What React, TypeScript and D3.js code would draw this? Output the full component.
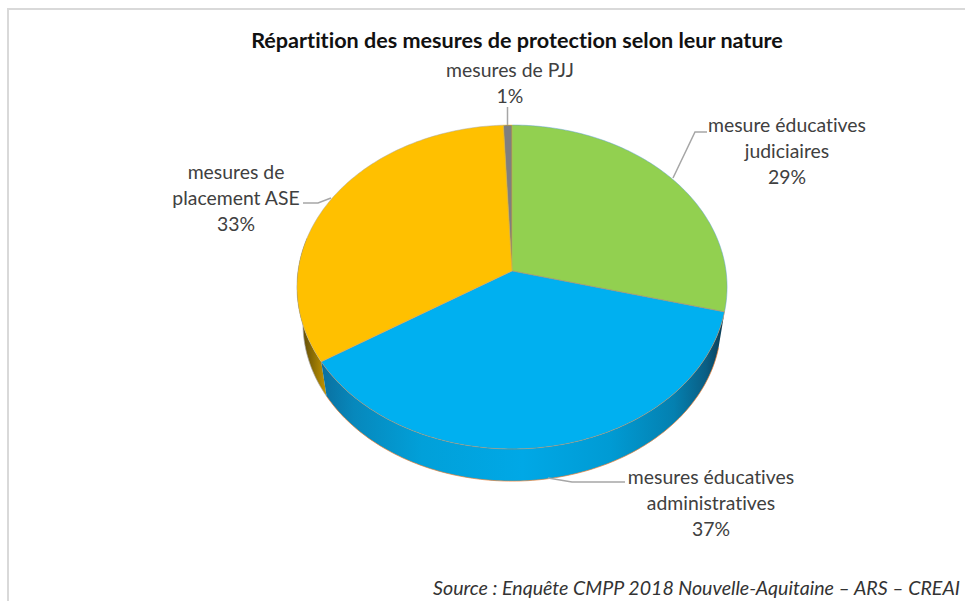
import React from 'react';
import * as d3 from 'd3';

const title = 'Répartition des mesures de protection selon leur nature';
const source = 'Source : Enquête CMPP 2018 Nouvelle-Aquitaine – ARS – CREAI';

const categories = ['judiciaires', 'administratives', 'placement', 'pjj'];
const values = [29, 37, 33.3, 0.7];
const labelLines = [
  ['mesure éducatives', 'judiciaires'],
  ['mesures éducatives', 'administratives'],
  ['mesures de', 'placement ASE'],
  ['mesures de PJJ'],
];

const fills = ['#92D050', '#00B0F0', '#FFC000', '#7F7F7F'];
const strokes = ['#5B9BD5', '#ED7D31', '#A5A5A5', '#FFC000'];

const width = 965;
const height = 601;
const fontFamily = 'Lato, "Open Sans", sans-serif';

// fake 3d: a disc seen in perspective, the apex sits above the ellipse centre
const top = { cx: 512, cy: 271, rx: 214, ry: 160.4, k: 0.0988 };
const bottom = { cx: 512, cy: 308, rx: 208, ry: 156, k: 0.0988 };

const project = (disc: typeof top, a: number): [number, number] => {
  const w = 1 + disc.k * Math.cos(a);
  return [disc.cx + (disc.rx * Math.sin(a)) / w, disc.cy - (disc.ry * Math.cos(a)) / w];
};

const rad = (deg: number) => (deg * Math.PI) / 180;
const line = d3.line();

const rim = (disc: typeof top, a0: number, a1: number) => {
  const n = Math.max(2, Math.ceil(Math.abs(a1 - a0) / rad(1)));
  return d3.range(n + 1).map(i => project(disc, a0 + ((a1 - a0) * i) / n));
};

// where each label goes, in the same order as categories
const placements = [
  { x: 787, y: 132, leader: [[673, 178], [695, 132], [707, 132]] },
  { x: 711, y: 484, leader: [[548, 478], [572, 482], [625, 482]] },
  { x: 236, y: 179, leader: [[331, 198], [318, 203], [303, 203]] },
  { x: 510, y: 76.5, leader: [[507.5, 125], [507.5, 107]] },
];

const App = () => {
  const ref = React.useRef<SVGSVGElement>(null);

  React.useEffect(() => {
    const svg = d3.select(ref.current);
    svg.selectAll('*').remove();

    const arcs = d3.pie<number>().sort(null).startAngle(0).endAngle(2 * Math.PI)(values);

    const defs = svg.append('defs');
    const addGradient = (id: string, x1: number, x2: number, stops: [number, string][]) => {
      const g = defs.append('linearGradient').attr('id', id)
        .attr('gradientUnits', 'userSpaceOnUse')
        .attr('x1', x1).attr('x2', x2).attr('y1', 0).attr('y2', 0);
      stops.forEach(s => g.append('stop').attr('offset', s[0]).attr('stop-color', s[1]));
    };
    addGradient('wallBlue', 322, 722, [
      [0, '#0A70A0'], [0.08, '#0788BC'], [0.25, '#01A0D9'], [0.5, '#00A8E6'],
      [0.72, '#009BD4'], [0.88, '#0480B0'], [0.96, '#0A5E84'], [1, '#0B3F58'],
    ]);
    addGradient('wallOrange', 302, 326, [[0, '#5F4A08'], [0.5, '#8F7004'], [1, '#C29400']]);

    // border of the pasted picture
    svg.append('path')
      .attr('d', `M8,${height} V9 H${width}`)
      .attr('fill', 'none').attr('stroke', '#D9D9D9').attr('stroke-width', 2);

    // side walls first, the top of the disc is painted over them
    const wall = (a0: number, a1: number, fill: string, stroke: string) => {
      const pts = [...rim(top, a0, a1), ...rim(bottom, a1, a0)];
      svg.append('path').attr('d', line(pts) + 'Z').attr('fill', fill);
      svg.append('path').attr('d', line(rim(bottom, a0, a1))).attr('fill', 'none')
        .attr('stroke', stroke).attr('stroke-width', 0.7);
    };
    wall(arcs[2].startAngle, rad(282), 'url(#wallOrange)', '#A5A5A5');
    wall(arcs[1].startAngle, arcs[1].endAngle, 'url(#wallBlue)', '#ED7D31');

    // top of the pie
    const apex: [number, number] = [top.cx, top.cy];
    arcs.forEach((d, i) => {
      svg.append('path')
        .datum(categories[i])
        .attr('d', line([apex, ...rim(top, d.startAngle, d.endAngle)]) + 'Z')
        .attr('fill', fills[i])
        .attr('stroke', strokes[i])
        .attr('stroke-width', 0.6)
        .attr('stroke-opacity', 0.8);
    });

    // leader lines
    placements.forEach(p => {
      svg.append('path').attr('d', line(p.leader as [number, number][]))
        .attr('fill', 'none').attr('stroke', '#A6A6A6').attr('stroke-width', 1.5);
    });

    // labels, last line is the percentage
    const pct = d3.format('.0%');
    const total = d3.sum(values);
    placements.forEach((p, i) => {
      const lines = [...labelLines[i], pct(values[i] / total)];
      const t = svg.append('text')
        .attr('text-anchor', 'middle')
        .attr('font-family', fontFamily)
        .attr('font-size', 19.4)
        .style('font-variant-ligatures', 'none')
        .attr('fill', '#404040');
      lines.forEach((s, j) => {
        t.append('tspan').attr('x', p.x).attr('y', p.y + j * 26).text(s);
      });
    });

    svg.append('text')
      .attr('x', 517).attr('y', 48)
      .attr('text-anchor', 'middle')
      .attr('font-family', fontFamily)
      .attr('font-size', 21.6)
      .attr('font-weight', 700)
      .style('font-variant-ligatures', 'none')
      .attr('fill', '#111')
      .text(title);

    svg.append('text')
      .attr('x', 960).attr('y', 595)
      .attr('text-anchor', 'end')
      .attr('font-family', fontFamily)
      .attr('font-size', 19.6)
      .attr('font-style', 'italic')
      .style('font-variant-ligatures', 'none')
      .attr('fill', '#333')
      .text(source);
  }, []);

  return (
    <svg
      ref={ref}
      width={width}
      height={height}
      style={{ position: 'absolute', left: 0, top: 0, background: '#fff' }}
    />
  );
};

export default App;
